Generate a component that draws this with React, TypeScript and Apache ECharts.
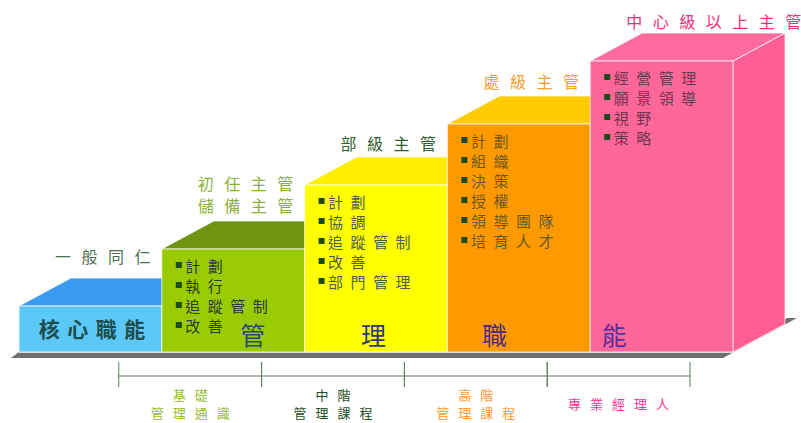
import React, { useEffect, useRef } from "react";
import * as echarts from "echarts";

// ---- data ----
const levelKeys = ["一般同仁", "初任主管", "部級主管", "處級主管", "中心級以上主管"];
const levelTitles = [["一般同仁"], ["初任主管", "儲備主管"], ["部級主管"], ["處級主管"], ["中心級以上主管"]];
const stepHeights = [46, 103, 167, 228, 291];
const competencies = [
  [],
  ["計劃", "執行", "追蹤管制", "改善"],
  ["計劃", "協調", "追蹤管制", "改善", "部門管理"],
  ["計劃", "組織", "決策", "授權", "領導團隊", "培育人才"],
  ["經營管理", "願景領導", "視野", "策略"],
];
const keyWords = ["核心職能", "管", "理", "職", "能"];
const courses = [["基礎", "管理通識"], ["中階", "管理課程"], ["高階", "管理課程"], ["專業經理人"]];

// ---- styles ----
const FONT = '"Noto Sans CJK TC", "Noto Sans CJK SC", sans-serif';
const DX = 52;
const DY = -28;
const frontColors = ["#5CC8F8", "#99CC00", "#FFFF00", "#FF9900", "#FF6699"];
const topColors = ["#3A9AF0", "#6F9410", "#FFEE00", "#FFCC00", "#FF6C9C"];
const sideColors = ["#3A9AF0", "#6F9410", "#FFEE00", "#FFCC00", "#FF5E92"];
const titleColors = ["#4F6F50", "#8DB03A", "#2F6030", "#F5A030", "#F0307A"];
const titleLift = [50, 44, 42, 43, 40];
const listColors = ["#333", "#2F3A2A", "#4F5F45", "#6A5A20", "#70364F"];
const keyColors = ["#1E4D4D", "#2E4A6A", "#2E3A7A", "#4A2A8A", "#5A2E9A"];
const keyCenters = [73, 91, 69, 47, 24];
const courseColors = ["#99BB33", "#1F4F1F", "#FF9933", "#FF3399"];

function charRow(str: string, x0: number, y: number, pitch: number, size: number, fill: string, weight = "normal") {
  return str.split("").map((ch, k) => ({
    type: "text",
    x: x0 + k * pitch,
    y,
    silent: true,
    style: {
      text: ch,
      fill,
      font: `${weight} ${size}px ${FONT}`,
      align: "center",
      verticalAlign: "middle",
      textAlign: "center",
      textVerticalAlign: "middle",
    },
  }));
}

export default function App() {
  const ref = useRef<HTMLDivElement>(null);
  useEffect(() => {
    const chart = echarts.init(ref.current!, undefined, { renderer: "svg" });

    const floorItem = (params: any, api: any) => {
      const bw = api.size([1, 0])[0];
      const [c0, fy] = api.coord([0, 0]);
      const [c4] = api.coord([levelKeys.length - 1, 0]);
      const x0 = c0 - bw / 2;
      const x1 = c4 + bw / 2;
      return {
        type: "group",
        children: [
          {
            type: "polygon",
            shape: {
              points: [
                [x0 - 8, fy + 6],
                [x1 - 10, fy + 6],
                [x1 + DX + 12, fy + DY - 6],
                [x1 + DX + 2, fy + DY - 6],
                [x1 - 2, fy],
                [x0, fy],
              ],
            },
            style: { fill: "#707070" },
          },
          {
            type: "line",
            shape: { x1: x0 - 2, y1: fy + 0.5, x2: x1, y2: fy + 0.5 },
            style: { stroke: "#C8C8C8", lineWidth: 1 },
          },
        ],
      };
    };

    const stepItem = (params: any, api: any) => {
      const i = params.dataIndex;
      const [cx, T] = api.coord([i, api.value(1)]);
      const [, fy] = api.coord([i, 0]);
      const bw = api.size([1, 0])[0];
      const L = cx - bw / 2;
      const R = cx + bw / 2;
      const edge = "rgba(255,255,255,0.75)";
      const children: any[] = [
        {
          type: "polygon",
          shape: { points: [[R, T], [R + DX, T + DY], [R + DX, fy + DY], [R, fy]] },
          style: { fill: sideColors[i], stroke: edge, lineWidth: 1 },
        },
        {
          type: "polygon",
          shape: { points: [[L, T], [L + DX, T + DY], [R + DX, T + DY], [R, T]] },
          style: { fill: topColors[i], stroke: edge, lineWidth: 1 },
        },
        {
          type: "rect",
          shape: { x: L, y: T, width: bw, height: fy - T },
          style: { fill: frontColors[i], stroke: edge, lineWidth: 1 },
        },
      ];
      // title above the step
      const titles = levelTitles[i];
      titles.forEach((t, k) => {
        const y = T - titleLift[i] - (titles.length - 1 - k) * 22;
        children.push(...charRow(t, L + 36 + 8, y, 26.5, 16, titleColors[i]));
      });
      // competency list
      competencies[i].forEach((t, k) => {
        const y = T + 16 + k * 20;
        children.push({
          type: "rect",
          shape: { x: L + 14, y: y - 3, width: 6, height: 6 },
          style: { fill: "#1C4A1C" },
        });
        children.push(...charRow(t, L + 31, y, 22.5, 15, listColors[i]));
      });
      // key word
      const kw = keyWords[i];
      if (kw.length > 1) {
        const pitch = 28.5;
        const x0 = L + keyCenters[i] - ((kw.length - 1) * pitch) / 2;
        children.push(...charRow(kw, x0, fy - 24, pitch, 21, keyColors[i], "bold"));
      } else {
        children.push(...charRow(kw, L + keyCenters[i], fy - 18, 0, 25, keyColors[i]));
      }
      return { type: "group", children };
    };

    const courseItem = (params: any, api: any) => {
      const i = params.dataIndex;
      const bw = api.size([1, 0])[0];
      const [c, fy] = api.coord([i, 0]);
      const [cNext] = api.coord([i + 1, 0]);
      const xa = c + bw / 2 - 43;
      const xb = cNext + bw / 2 - 43;
      const ly = fy + 24;
      const col = "#5E7F5E";
      const children: any[] = [
        { type: "line", shape: { x1: xa, y1: ly, x2: xb, y2: ly }, style: { stroke: col, lineWidth: 1 } },
        { type: "line", shape: { x1: xa, y1: fy + 10, x2: xa, y2: fy + 35 }, style: { stroke: col, lineWidth: 1 } },
        { type: "line", shape: { x1: xb, y1: fy + 10, x2: xb, y2: fy + 35 }, style: { stroke: col, lineWidth: 1 } },
      ];
      const lines = courses[i];
      const mid = (xa + xb) / 2;
      lines.forEach((t, k) => {
        const y = lines.length === 1 ? fy + 51 : fy + 42 + k * 18;
        const pitch = 22;
        const x0 = mid - ((t.length - 1) * pitch) / 2;
        children.push(...charRow(t, x0, y, pitch, 13, courseColors[i]));
      });
      return { type: "group", children };
    };

    chart.setOption({
      animation: false,
      grid: { left: 19, right: 68, top: 52, bottom: 71 },
      xAxis: { type: "category", data: levelKeys, show: false, boundaryGap: true },
      yAxis: { type: "value", min: 0, max: 300, show: false },
      series: [
        {
          type: "custom",
          silent: true,
          renderItem: floorItem,
          data: [[0, 0]],
          encode: { x: 0, y: 1 },
          z: 1,
        },
        {
          type: "custom",
          silent: true,
          renderItem: stepItem,
          data: stepHeights.map((v, i) => [i, v]),
          encode: { x: 0, y: 1 },
          z: 2,
        },
        {
          type: "custom",
          silent: true,
          renderItem: courseItem,
          data: courses.map((_, i) => [i, 0]),
          encode: { x: 0, y: 1 },
          z: 3,
        },
      ],
    });
    return () => chart.dispose();
  }, []);
  return (
    <div
      ref={ref}
      style={{ position: "absolute", left: 0, top: 0, width: 801, height: 423, background: "#fff" }}
    />
  );
}
